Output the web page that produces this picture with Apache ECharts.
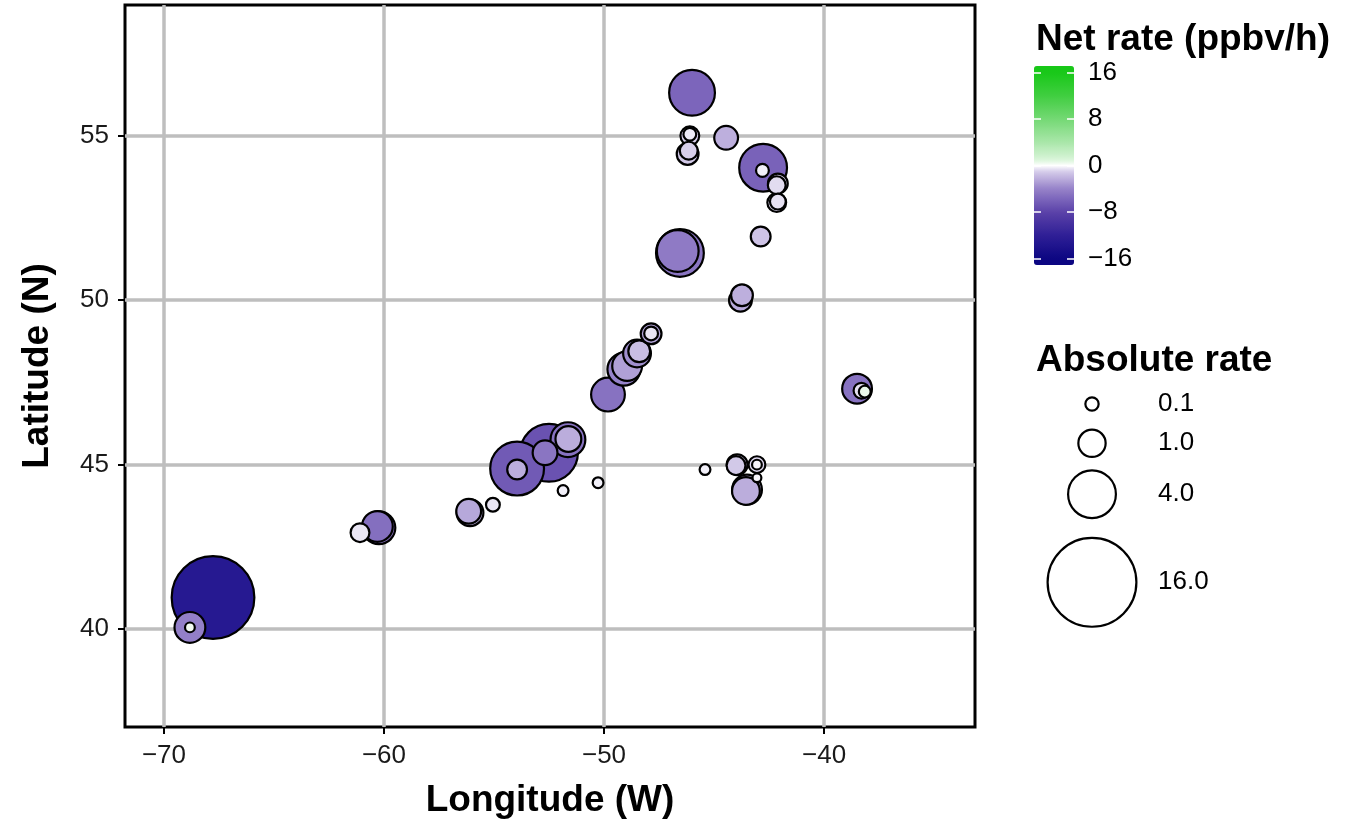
<!DOCTYPE html>
<html>
<head>
<meta charset="utf-8">
<script src="https://cdn.jsdelivr.net/npm/echarts@6/dist/echarts.min.js"></script>
<style>
  html, body { margin: 0; padding: 0; background: #ffffff; }
  #chart { width: 1358px; height: 819px; }
</style>
</head>
<body>
<div id="chart"></div>
<script>
// Measurement sites: longitude, latitude, absolute rate and net rate (ppbv/h)
const lon = [
  -67.77, -68.82, -68.82, -61.09, -60.23, -60.30, -56.09, -56.15, -55.05, -53.95,
  -53.95, -52.50, -52.68, -51.64, -51.62, -51.86, -50.27, -49.82, -49.10, -48.95,
  -48.50, -48.40, -47.86, -47.86, -46.00, -46.10, -46.10, -46.20, -46.15, -44.45,
  -42.77, -42.80, -42.10, -42.15, -42.15, -42.10, -42.88, -46.55, -46.65, -43.73,
  -43.80, -45.41, -43.95, -44.00, -43.05, -43.05, -43.05, -43.50, -43.55, -38.50,
  -38.30, -38.15
];
const lat = [
  40.96, 40.05, 40.05, 42.93, 43.08, 43.12, 43.54, 43.58, 43.78, 44.88,
  44.85, 45.36, 45.36, 45.76, 45.78, 44.21, 44.45, 47.13, 47.90, 48.00,
  48.38, 48.45, 48.98, 48.99, 56.31, 55.00, 55.05, 54.45, 54.55, 54.94,
  54.03, 53.95, 53.55, 53.50, 52.97, 53.00, 51.94, 51.44, 51.50, 50.15,
  50.00, 44.85, 45.00, 44.97, 45.00, 45.00, 44.60, 44.24, 44.20, 47.31,
  47.25, 47.22
];
const absRate = [
  13.7, 1.37, 0.021, 0.343, 1.61, 1.37, 0.95, 0.77, 0.117, 5.26,
  0.40, 6.19, 0.77, 1.87, 0.86, 0.038, 0.038, 1.73, 1.61, 1.26,
  1.05, 0.535, 0.466, 0.117, 3.62, 0.343, 0.086, 0.535, 0.288, 0.687,
  4.0, 0.086, 0.402, 0.288, 0.343, 0.193, 0.402, 4.0, 2.91, 0.535,
  0.609, 0.038, 0.466, 0.343, 0.238, 0.021, 0.01, 1.26, 1.05, 1.26,
  0.19, 0.06
];
const netRate = [
  -13.0, -4.2, 0.3, -0.5, -4.8, -5.2, -2.3, -2.5, -0.5, -6.5,
  -2.3, -7.0, -4.8, -5.0, -2.3, -0.3, -0.3, -5.0, -4.0, -2.8,
  -3.5, -1.6, -2.6, -0.5, -5.8, -1.0, -0.4, -1.2, -1.0, -2.2,
  -6.0, -0.3, -0.9, -0.7, -0.8, -0.6, -1.4, -4.8, -4.5, -2.2,
  -2.4, -0.3, -1.5, -1.2, -0.8, -0.2, -0.2, -2.1, -2.3, -5.0,
  -0.6, 0.5
];

// Axis breaks and legend breaks
const lonTicks = [-70, -60, -50, -40];
const latTicks = [40, 45, 50, 55];
const netTicks = [-16, -8, 0, 8, 16];
const sizeBreaks = [0.1, 1, 4, 16];
const sizeBreakLabels = ['0.1', '1.0', '4.0', '16.0'];

// Diverging palette for the net rate
const netStops = [-16, -12, -8, -4, -1, 0, 1, 4, 8, 12, 16];
const netColors = ['#0c0682', '#2f1f96', '#5b42a9', '#9682c9', '#d6cdea', '#ffffff',
                   '#d8f4d8', '#a9e6a9', '#74d874', '#40ce40', '#18c818'];

const FONT = "'Liberation Sans', Arial, sans-serif";
const STROKE = 2.2;
const NET_LIMIT = 16;

function hexToRgb(h) {
  return [parseInt(h.slice(1, 3), 16), parseInt(h.slice(3, 5), 16), parseInt(h.slice(5, 7), 16)];
}
function netColor(v) {
  v = Math.max(-NET_LIMIT, Math.min(NET_LIMIT, v));
  for (let i = 0; i < netStops.length - 1; i++) {
    if (v <= netStops[i + 1]) {
      const t = (v - netStops[i]) / (netStops[i + 1] - netStops[i]);
      const a = hexToRgb(netColors[i]), b = hexToRgb(netColors[i + 1]);
      const c = a.map((x, k) => Math.round(x + (b[k] - x) * t));
      return 'rgb(' + c.join(',') + ')';
    }
  }
  return netColors[netColors.length - 1];
}

// Outer circle diameter (px) for an absolute rate
function circleDiameter(v) {
  return 9 + 82 * Math.sqrt(v / 16);
}

function minusFmt(v) {
  return v < 0 ? '\u2212' + Math.abs(v) : String(v);
}

// Points: largest drawn first so small ones stay visible
const points = lon.map((x, i) => [x, lat[i], absRate[i], netRate[i]])
  .sort((a, b) => b[2] - a[2]);

// Colour bar: slightly longer than the break range
const BAR_TOP = 66, BAR_LEN = 199, TICK_SPAN = 186.3;
const barExt = NET_LIMIT * BAR_LEN / TICK_SPAN;
const barColors = [];
for (let i = 0; i <= 80; i++) barColors.push(netColor(-barExt + 2 * barExt * i / 80));

// Size legend key layout
const keyHeights = sizeBreaks.map(v => Math.max(39.3, 1.25 * circleDiameter(v)));
const keyCenters = [];
let acc = 0;
keyHeights.forEach(h => { keyCenters.push(acc + h / 2); acc += h; });
const keyTotal = acc;
const sizeLegendTop = 404 - keyHeights[0] / 2;

const chart = echarts.init(document.getElementById('chart'), null, { renderer: 'canvas' });

chart.setOption({
  animation: false,
  backgroundColor: '#ffffff',
  textStyle: { fontFamily: FONT },
  title: [
    { text: 'Net rate (ppbv/h)', left: 1036, top: 21, padding: 0,
      textStyle: { fontFamily: FONT, fontSize: 37, fontWeight: 'bold', color: '#000' } },
    { text: 'Absolute rate', left: 1036, top: 342, padding: 0,
      textStyle: { fontFamily: FONT, fontSize: 37, fontWeight: 'bold', color: '#000' } }
  ],
  grid: [
    { left: 125, top: 5, width: 850, height: 722, show: true, outerBoundsMode: 'none',
      containLabel: false, borderColor: '#000', borderWidth: 3, backgroundColor: 'transparent' },
    { left: 1034, top: BAR_TOP + (BAR_LEN - TICK_SPAN) / 2, width: 40, height: TICK_SPAN,
      outerBoundsMode: 'none', containLabel: false },
    { left: 1042, top: sizeLegendTop, width: 100, height: keyTotal,
      outerBoundsMode: 'none', containLabel: false }
  ],
  xAxis: [
    {
      gridIndex: 0, type: 'value', min: -71.77, max: -33.14,
      name: 'Longitude (W)', nameLocation: 'middle', nameGap: 55,
      nameTextStyle: { fontFamily: FONT, fontSize: 37, fontWeight: 'bold', color: '#000' },
      axisLine: { show: false },
      axisTick: { show: true, customValues: lonTicks, length: 7, lineStyle: { color: '#000', width: 2 } },
      axisLabel: { customValues: lonTicks, formatter: minusFmt, margin: 16,
        fontFamily: FONT, fontSize: 26, color: '#1a1a1a' },
      splitLine: { show: true, lineStyle: { color: '#bebebe', width: 3.5 } }
    },
    { gridIndex: 1, type: 'value', show: false, min: 0, max: 1 },
    { gridIndex: 2, type: 'value', show: false, min: -1, max: 1 }
  ],
  yAxis: [
    {
      gridIndex: 0, type: 'value', min: 37.02, max: 58.98,
      name: 'Latitude (N)', nameLocation: 'middle', nameGap: 69,
      nameTextStyle: { fontFamily: FONT, fontSize: 37, fontWeight: 'bold', color: '#000' },
      axisLine: { show: false },
      axisTick: { show: true, customValues: latTicks, length: 7, lineStyle: { color: '#000', width: 2 } },
      axisLabel: { customValues: latTicks, formatter: minusFmt, margin: 16,
        fontFamily: FONT, fontSize: 26, color: '#1a1a1a' },
      splitLine: { show: true, lineStyle: { color: '#bebebe', width: 3.5 } }
    },
    {
      gridIndex: 1, type: 'value', position: 'left', min: -16, max: 16, interval: 8, z: 10,
      axisLine: { show: false }, splitLine: { show: false },
      axisTick: { show: true, inside: true, length: 7, lineStyle: { color: '#ffffff', width: 1.5 } },
      axisLabel: { show: false }
    },
    {
      gridIndex: 1, type: 'value', position: 'right', min: -16, max: 16, interval: 8, z: 10,
      axisLine: { show: false }, splitLine: { show: false },
      axisTick: { show: true, inside: true, length: 7, lineStyle: { color: '#ffffff', width: 1.5 } },
      axisLabel: { show: true, margin: 14, formatter: minusFmt,
        fontFamily: FONT, fontSize: 26, color: '#000' }
    },
    {
      gridIndex: 2, type: 'value', position: 'right', inverse: true, min: 0, max: keyTotal,
      axisLine: { show: false }, splitLine: { show: false }, axisTick: { show: false },
      axisLabel: {
        show: true, margin: 16, customValues: keyCenters,
        formatter: v => {
          let best = 0;
          keyCenters.forEach((c, i) => { if (Math.abs(c - v) < Math.abs(keyCenters[best] - v)) best = i; });
          return sizeBreakLabels[best];
        },
        fontFamily: FONT, fontSize: 26, color: '#000'
      }
    }
  ],
  visualMap: [{
    type: 'continuous', seriesIndex: 0, dimension: 3,
    min: -barExt, max: barExt, calculable: false, hoverLink: false,
    orient: 'vertical', left: 1034, top: BAR_TOP, itemWidth: 40, itemHeight: BAR_LEN,
    padding: 0, text: null, inRange: { color: barColors }
  }],
  series: [
    {
      type: 'scatter', xAxisIndex: 0, yAxisIndex: 0,
      data: points,
      symbol: 'circle',
      symbolSize: val => circleDiameter(val[2]) - STROKE,
      itemStyle: { borderColor: '#000', borderWidth: STROKE, opacity: 1 },
      emphasis: { disabled: true },
      z: 3
    },
    {
      type: 'scatter', xAxisIndex: 2, yAxisIndex: 3,
      data: sizeBreaks.map((v, i) => [0, keyCenters[i], v]),
      symbol: 'circle',
      symbolSize: val => circleDiameter(val[2]) - STROKE,
      itemStyle: { color: '#ffffff', borderColor: '#000', borderWidth: STROKE, opacity: 1 },
      emphasis: { disabled: true },
      silent: true
    }
  ]
});
</script>
</body>
</html>
